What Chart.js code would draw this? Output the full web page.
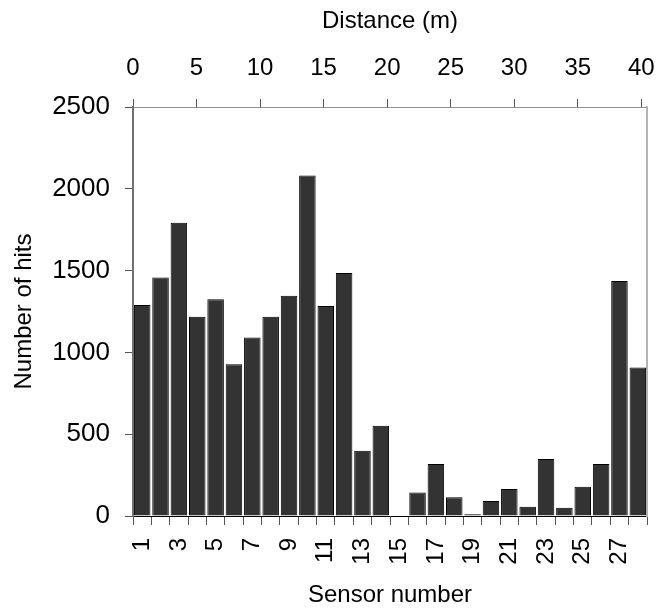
<!DOCTYPE html>
<html>
<head>
<meta charset="utf-8">
<script src="https://cdn.jsdelivr.net/npm/chart.js@4.4.1/dist/chart.umd.min.js"></script>
<style>
  html, body { margin: 0; padding: 0; background: #fff; }
  #wrap { width: 658px; height: 615px; }
</style>
</head>
<body>
<div id="wrap"><canvas id="c" width="658" height="615"></canvas></div>
<script>
// Sensor numbers along the bottom axis
const sensors = Array.from({length: 28}, (_, i) => String(i + 1));
// Hits recorded by each sensor
const hits = [1289, 1458, 1792, 1218, 1325, 928, 1091, 1218, 1346, 2081,
              1283, 1486, 399, 552, 0, 143, 318, 114, 10, 92,
              165, 57, 348, 51, 179, 318, 1437, 908];
// Distance scale along the top axis (m); the sensor line runs slightly past 40 m
const distanceMin = 0;
const distanceMax = 40.45;
const distanceStep = 5;
// Hit-count axis
const hitsMax = 2500;
const hitsStep = 500;

const FONT = 'Liberation Sans, Arial, sans-serif';
const yTickFont = { family: FONT, size: 26 };
const xTickFont = { family: FONT, size: 24 };
const titleFont = { family: FONT, size: 24 };

// Keep the plot area fixed: drop the extra side padding reserved for edge labels
const noSidePad = s => { s.paddingLeft = 0; s.paddingRight = 0; };
const noEndPad = s => { s.paddingTop = 0; s.paddingBottom = 0; };

new Chart(document.getElementById('c'), {
  type: 'bar',
  data: {
    labels: sensors,
    datasets: [{
      data: hits,
      backgroundColor: '#333333',
      borderColor: '#000000',
      borderWidth: 1,
      barPercentage: 0.9,
      categoryPercentage: 1.0
    }]
  },
  options: {
    responsive: false,
    animation: false,
    layout: { padding: { left: 0, right: 11, top: 0, bottom: 0 } },
    plugins: { legend: { display: false }, tooltip: { enabled: false } },
    scales: {
      x: {
        type: 'category',
        position: 'bottom',
        offset: true,
        grid: { display: true, drawOnChartArea: false, drawTicks: true, tickLength: 9, color: '#555555', lineWidth: 1 },
        border: { display: true, color: '#000000', width: 1 },
        ticks: {
          autoSkip: false,
          minRotation: 90,
          maxRotation: 90,
          padding: 13,
          color: '#000000',
          font: xTickFont,
          callback: function (value, index) {
            return index % 2 === 0 ? this.getLabelForValue(value) : '';
          }
        },
        title: { display: true, text: 'Sensor number', color: '#000000', font: titleFont, padding: { top: 4, bottom: 5 } },
        afterFit: s => { s.height = 99; noSidePad(s); }
      },
      x2: {
        type: 'linear',
        position: 'top',
        offset: false,
        min: distanceMin,
        max: distanceMax,
        grid: { display: true, offset: false, drawOnChartArea: false, drawTicks: true, tickLength: 8, color: '#555555', lineWidth: 1 },
        border: { display: true, color: '#909090', width: 1 },
        ticks: { stepSize: distanceStep, includeBounds: false, padding: 16, color: '#000000', font: xTickFont, maxRotation: 0 },
        title: { display: true, text: 'Distance (m)', color: '#000000', font: titleFont, padding: { top: 7, bottom: 4 } },
        afterFit: s => { s.height = 107; noSidePad(s); }
      },
      y: {
        position: 'left',
        min: 0,
        max: hitsMax,
        grid: { display: true, drawOnChartArea: false, drawTicks: true, tickLength: 8, color: '#555555', lineWidth: 1 },
        border: { display: true, color: '#707070', width: 2 },
        ticks: { stepSize: hitsStep, padding: 15, color: '#000000', font: yTickFont, callback: v => String(v) },
        title: { display: true, text: 'Number of hits', color: '#000000', font: titleFont, padding: { top: 10, bottom: 0 } },
        afterFit: s => { s.width = 133; noEndPad(s); }
      },
      yRight: {
        type: 'linear',
        position: 'right',
        grid: { display: false },
        border: { display: true, color: '#b4b4b4', width: 2 },
        ticks: { display: false },
        afterFit: s => { s.width = 0; noEndPad(s); }
      }
    }
  }
});
</script>
</body>
</html>
